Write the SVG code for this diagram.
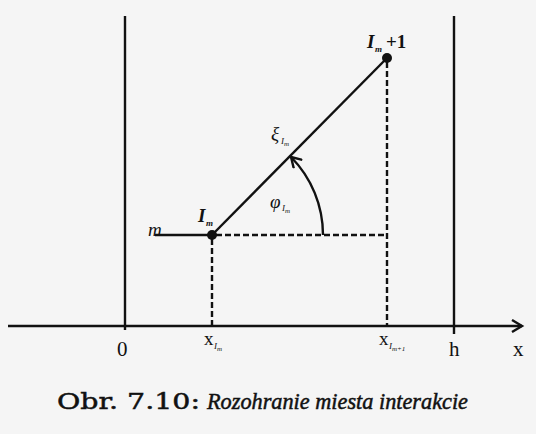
<svg xmlns="http://www.w3.org/2000/svg" width="536" height="434" viewBox="0 0 536 434">
<style>
.ln{stroke:#111;stroke-width:2.4;fill:none}
.ds{stroke:#111;stroke-width:2.4;fill:none;stroke-dasharray:6,3}
.t{font-family:"Liberation Serif","DejaVu Serif",serif;fill:#111}
.i{font-style:italic}
.b{font-weight:bold}
.cap{stroke:#111;stroke-width:0.5}
</style>
<defs>
<marker id="ah" markerWidth="14" markerHeight="14" refX="11" refY="7" orient="auto" markerUnits="userSpaceOnUse">
<path d="M1,1 L11,7 L1,13" fill="none" stroke="#111" stroke-width="2.4"/>
</marker>
</defs>
<rect width="536" height="434" fill="#f5f5f5"/>
<g id="connectors">
<line class="ln" x1="8" y1="326" x2="522" y2="326" marker-end="url(#ah)"/>
<line class="ln" x1="125" y1="16" x2="125" y2="330"/>
<line class="ln" x1="454" y1="16" x2="454" y2="334"/>
<line class="ln" x1="155" y1="235" x2="212" y2="235"/>
<line class="ds" x1="216" y1="235" x2="388" y2="235"/>
<line class="ds" x1="212" y1="239" x2="212" y2="326"/>
<line class="ds" x1="387" y1="62" x2="387" y2="326"/>
<line class="ln" x1="212" y1="235" x2="387" y2="58"/>
<path class="ln" d="M323,235 A111,111 0 0 0 291,157" marker-end="url(#ah)"/>
</g>
<g id="node-Im">
<circle cx="212" cy="235" r="5" fill="#111"/>
<text class="t i b" x="198" y="222" font-size="19">I</text>
<text class="t i b" x="206" y="226" font-size="9">m</text>
</g>
<g id="node-Im1">
<circle cx="387" cy="58" r="5" fill="#111"/>
<text class="t i b" x="367" y="48" font-size="19">I</text>
<text class="t i b" x="375" y="52" font-size="9">m</text>
<text class="t b" x="386" y="48" font-size="19">+1</text>
</g>
<g id="labels">
<text class="t i" x="148" y="236" font-size="19">m</text>
<text class="t i" x="271" y="140" font-size="19">ξ</text>
<text class="t i" x="281" y="144" font-size="9">I</text>
<text class="t i" x="284" y="146" font-size="7">m</text>
<text class="t i" x="270" y="208" font-size="19">φ</text>
<text class="t i" x="282" y="211" font-size="9">I</text>
<text class="t i" x="285" y="213" font-size="7">m</text>
<text class="t" x="117" y="356" font-size="21">0</text>
<text class="t" x="204" y="345" font-size="19">x</text>
<text class="t i" x="214" y="349" font-size="9">I</text>
<text class="t i" x="217" y="351" font-size="7">m</text>
<text class="t" x="379" y="345" font-size="19">x</text>
<text class="t i" x="389" y="349" font-size="9">I</text>
<text class="t i" x="392" y="351" font-size="7">m+1</text>
<text class="t" x="449" y="356" font-size="21">h</text>
<text class="t" x="513" y="356" font-size="21">x</text>
<text class="cap" x="57" y="409" font-size="23" font-family="'DejaVu Serif','Liberation Serif',serif" fill="#111" textLength="143" lengthAdjust="spacingAndGlyphs">Obr. 7.10:</text>
<text class="t i cap" x="207" y="409" font-size="23" textLength="261" lengthAdjust="spacingAndGlyphs">Rozohranie miesta interakcie</text>
</g>
</svg>
